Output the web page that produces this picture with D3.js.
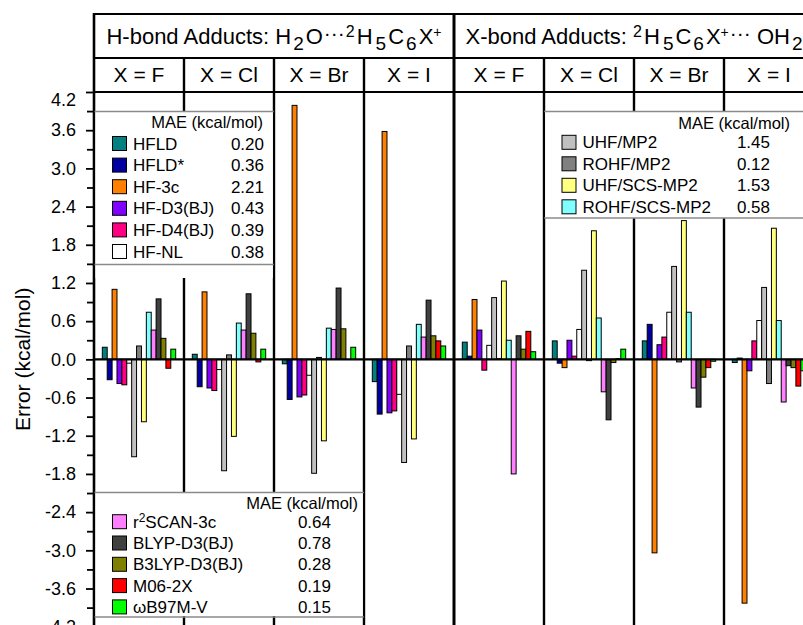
<!DOCTYPE html>
<html><head><meta charset="utf-8">
<script src="https://cdn.jsdelivr.net/npm/d3@7/dist/d3.min.js"></script>
<style>body{margin:0;background:#fff}svg{display:block;font-family:Arial,"Liberation Sans",sans-serif}</style>
</head><body><svg id="c" width="803" height="625"></svg>
<script>
// ---------- data ----------
const groups = ["H-F","H-Cl","H-Br","H-I","X-F","X-Cl","X-Br","X-I"];
const halogenLabels = ["X = F","X = Cl","X = Br","X = I","X = F","X = Cl","X = Br","X = I"];
const methods = ["HFLD","HFLD*","HF-3c","HF-D3(BJ)","HF-D4(BJ)","HF-NL","UHF/MP2","ROHF/MP2","UHF/SCS-MP2","ROHF/SCS-MP2","r2SCAN-3c","BLYP-D3(BJ)","B3LYP-D3(BJ)","M06-2X","ωB97M-V"];
const colors = ["#008080","#0000a0","#ff8000","#8000ff","#ff0080","#ffffff","#c0c0c0","#808080","#ffff80","#80ffff","#ff80ff","#404040","#808000","#ff0000","#00ff00"];
const maeValues = ["0.20","0.36","2.21","0.43","0.39","0.38","1.45","0.12","1.53","0.58","0.64","0.78","0.28","0.19","0.15"];
// errors (kcal/mol) per method, over the 8 groups
const HFLD      = [0.19, 0.08, -0.07, -0.35, 0.27, 0.29, 0.29, -0.05];
const HFLDstar  = [-0.32, -0.43, -0.63, -0.86, 0.05, -0.06, 0.55, 0.02];
const HF3c      = [1.10, 1.06, 3.99, 3.58, 0.94, -0.13, -3.04, -3.83];
const HFD3      = [-0.38, -0.45, -0.59, -0.84, 0.46, 0.30, 0.23, -0.18];
const HFD4      = [-0.40, -0.49, -0.56, -0.81, -0.17, 0.05, 0.35, 0.29];
const HFNL      = [-0.06, -0.16, -0.25, -0.55, 0.22, 0.47, 0.74, 0.61];
const UHFMP2    = [-1.53, -1.75, -1.79, -1.62, 0.97, 1.40, 1.46, 1.13];
const ROHFMP2   = [0.21, 0.07, 0.03, 0.21, 0.01, -0.02, -0.04, -0.38];
const UHFSCS    = [-0.98, -1.21, -1.28, -1.25, 1.23, 2.02, 2.18, 2.06];
const ROHFSCS   = [0.74, 0.57, 0.49, 0.55, 0.30, 0.65, 0.74, 0.61];
const r2SCAN    = [0.46, 0.46, 0.47, 0.35, -1.80, -0.51, -0.45, -0.67];
const BLYP      = [0.95, 1.03, 1.12, 0.93, 0.37, -0.95, -0.75, -0.10];
const B3LYP     = [0.33, 0.41, 0.48, 0.37, 0.16, -0.05, -0.28, -0.13];
const M062X     = [-0.14, -0.04, 0.00, 0.29, 0.44, 0.01, -0.13, -0.42];
const wB97MV    = [0.16, 0.16, 0.19, 0.21, 0.12, 0.16, -0.03, -0.18];
const series = [HFLD,HFLDstar,HF3c,HFD3,HFD4,HFNL,UHFMP2,ROHFMP2,UHFSCS,ROHFSCS,r2SCAN,BLYP,B3LYP,M062X,wB97MV];
const majorTicks = [-4.2,-3.6,-3.0,-2.4,-1.8,-1.2,-0.6,0,0.6,1.2,1.8,2.4,3.0,3.6,4.2];
const minorTicks = [-3.9,-3.3,-2.7,-2.1,-1.5,-0.9,-0.3,0.3,0.9,1.5,2.1,2.7,3.3,3.9];

// ---------- layout ----------
const svg = d3.select("#c");
const plotLeft = 94, plotRight = 814, plotTop = 92, plotBottom = 626.7;
const headTop = 14, headMid = 58;
const x0 = d3.scaleBand().domain(groups).range([plotLeft, plotRight]).padding(0);
const x1 = d3.scaleBand().domain(methods).range([0, x0.bandwidth()]).paddingInner(0).paddingOuter(1.7);
const y = d3.scaleLinear().domain([-4.2, 4.2]).range([plotBottom, plotTop]);

const rows = [];
groups.forEach((g, gi) => methods.forEach((m, mi) => rows.push({g, m, mi, v: series[mi][gi]})));

// bars
svg.append("g").selectAll("rect").data(rows).join("rect")
  .attr("x", d => x0(d.g) + x1(d.m))
  .attr("width", x1.bandwidth())
  .attr("y", d => y(Math.max(0, d.v)))
  .attr("height", d => Math.abs(y(d.v) - y(0)))
  .attr("fill", d => colors[d.mi])
  .attr("stroke", "#000").attr("stroke-width", 1);

// zero line
svg.append("line").attr("x1", plotLeft).attr("x2", 803).attr("y1", y(0)).attr("y2", y(0))
  .attr("stroke", "#000").attr("stroke-width", 2.2);

// separators
groups.forEach((g, i) => {
  if (i === 0) return;
  svg.append("line").attr("x1", x0(g)).attr("x2", x0(g))
    .attr("y1", i === 4 ? headTop : headMid).attr("y2", 640)
    .attr("stroke", "#000").attr("stroke-width", i === 4 ? 3 : 2.4);
});

// header box
svg.append("line").attr("x1", plotLeft).attr("x2", 803).attr("y1", headTop).attr("y2", headTop).attr("stroke", "#000").attr("stroke-width", 2);
svg.append("line").attr("x1", plotLeft).attr("x2", 803).attr("y1", headMid).attr("y2", headMid).attr("stroke", "#000").attr("stroke-width", 2);
svg.append("line").attr("x1", plotLeft).attr("x2", 803).attr("y1", plotTop).attr("y2", plotTop).attr("stroke", "#000").attr("stroke-width", 2);
svg.append("line").attr("x1", plotLeft).attr("x2", plotLeft).attr("y1", headTop - 1).attr("y2", 640).attr("stroke", "#000").attr("stroke-width", 2.6);

// rich text helper
function rich(sel, segs) {
  let shift = 0;
  segs.forEach(s => {
    const t = sel.append("tspan").text(s.t);
    const target = s.sub ? 6 : s.sup ? (s.supShift || -7) : (s.mid || 0);
    t.attr("dy", target - shift); shift = target;
    if (s.dx) t.attr("dx", s.dx);
    if (s.size) t.attr("font-size", s.size);
  });
}
const subS = 19, supS = 16;
const tH = svg.append("text").attr("x", (x0("H-F") + x0("X-F")) / 2).attr("y", 44)
  .attr("text-anchor", "middle").attr("font-size", 22);
rich(tH, [{t:"H-bond Adducts: H"},{t:"2",sub:1,size:subS,dx:2},{t:"O",dx:2},{t:"···",size:21,dx:1,mid:-4},
  {t:"2",sup:1,size:supS,dx:1},{t:"H",dx:2},{t:"5",sub:1,size:subS,dx:3},{t:"C",dx:2},{t:"6",sub:1,size:subS,dx:2},{t:"X",dx:2},{t:"+",sup:1,size:14}]);
const tX = svg.append("text").attr("x", (x0("X-F") + plotRight) / 2).attr("y", 44)
  .attr("text-anchor", "middle").attr("font-size", 22);
rich(tX, [{t:"X-bond Adducts: "},{t:"2",sup:1,size:supS},{t:"H",dx:2},{t:"5",sub:1,size:subS,dx:3},{t:"C",dx:2},{t:"6",sub:1,size:subS,dx:2},
  {t:"X",dx:2},{t:"+",sup:1,size:14},{t:"···",size:21,dx:1,mid:-4},{t:" OH"},{t:"2",sub:1,size:subS,dx:2}]);

svg.append("g").selectAll("text").data(groups).join("text")
  .attr("x", g => x0(g) + x0.bandwidth() / 2).attr("y", 82)
  .attr("text-anchor", "middle").attr("font-size", 21)
  .text((g, i) => halogenLabels[i]);

// legends
function legend(opts) {
  const g = svg.append("g");
  g.append("rect").attr("x", opts.x0).attr("y", opts.top).attr("width", opts.x1 - opts.x0).attr("height", opts.bgBottom - opts.top).attr("fill", "#fff");
  [opts.top, opts.bottom].forEach(yy => g.append("line").attr("x1", opts.x0 - 1).attr("x2", opts.x1 + 1).attr("y1", yy).attr("y2", yy).attr("stroke", "#8a8a8a").attr("stroke-width", 1.6));
  g.append("text").attr("x", opts.headX).attr("y", opts.headY + 6).attr("text-anchor", "end").attr("font-size", 16.5).text("MAE (kcal/mol)");
  opts.items.forEach((mi, k) => {
    const cy = opts.rowY + k * opts.step;
    g.append("rect").attr("x", opts.swX).attr("y", cy - 7).attr("width", 14).attr("height", 14)
      .attr("fill", colors[mi]).attr("stroke", "#000").attr("stroke-width", 1);
    const t = g.append("text").attr("x", opts.swX + 20.5).attr("y", cy + 6).attr("font-size", 17);
    if (methods[mi] === "r2SCAN-3c") rich(t, [{t:"r"},{t:"2",sup:1,size:12,supShift:-6},{t:"SCAN-3c"}]);
    else t.text(methods[mi]);
    g.append("text").attr("x", opts.valX).attr("y", cy + 6).attr("text-anchor", "end").attr("font-size", 17).text(maeValues[mi]);
  });
}
legend({x0: 95.5, x1: x0("H-Br") - 1.2, top: 111.5, bottom: 264.5, bgBottom: 278, headX: 263, headY: 122, swX: 112.5, rowY: 143.5, step: 21.6, valX: 264, items: [0,1,2,3,4,5]});
legend({x0: 95.5, x1: x0("H-I") - 1.2, top: 492.5, bottom: 617, bgBottom: 616, headX: 358, headY: 503, swX: 112.5, rowY: 521.7, step: 21.3, valX: 331, items: [10,11,12,13,14]});
legend({x0: x0("X-Cl") + 1.2, x1: 810, top: 111.5, bottom: 218, bgBottom: 218, headX: 790, headY: 123, swX: 562, rowY: 142.3, step: 21.5, valX: 770, items: [6,7,8,9]});

// y axis
const fmt = d => (Math.abs(d) < 1e-9 ? "0.0" : d.toFixed(1));
const ax = svg.append("g").attr("transform", `translate(${plotLeft},0)`)
  .call(d3.axisLeft(y).tickValues(majorTicks).tickSize(8).tickPadding(10).tickFormat(fmt));
ax.select(".domain").remove();
ax.selectAll(".tick line").attr("stroke-width", 1.8);
ax.selectAll(".tick text").attr("font-size", 18).attr("font-family", "Arial, 'Liberation Sans', sans-serif").attr("fill", "#000");
ax.selectAll(".tick text").filter(d => d === 4.2).attr("transform", "translate(0,8)");
const axm = svg.append("g").attr("transform", `translate(${plotLeft},0)`)
  .call(d3.axisLeft(y).tickValues(minorTicks).tickSize(7).tickFormat(""));
axm.select(".domain").remove();
axm.selectAll(".tick line").attr("stroke-width", 1.8);

svg.append("text").attr("transform", `translate(30,${(plotTop + plotBottom) / 2}) rotate(-90)`)
  .attr("text-anchor", "middle").attr("font-size", 21).text("Error (kcal/mol)");
</script></body></html>
